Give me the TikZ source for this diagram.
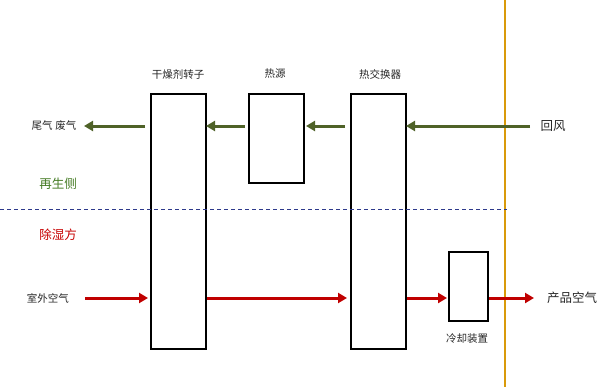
\documentclass[tikz,border=0pt]{standalone}
\usepackage{fontspec}
\setmainfont{Noto Sans CJK SC}
\usetikzlibrary{arrows.meta}
\definecolor{regen}{HTML}{4F6228}
\definecolor{dehum}{HTML}{C00000}
\definecolor{divline}{HTML}{D99A0A}
\definecolor{dashblue}{HTML}{2E3A8C}
\tikzset{
  unitbox/.style={draw=black, line width=1.6pt, minimum width=55pt, inner sep=0pt},
  lbl/.style={font=\fontsize{10.5}{12}\selectfont, text=black!85, inner sep=0pt},
  biglbl/.style={font=\fontsize{12.5}{14}\selectfont, inner sep=0pt},
  greenarrow/.style={draw=regen, line width=3pt, -{Triangle[length=9pt,width=10pt]}},
  redarrow/.style={draw=dehum, line width=3pt, -{Triangle[length=9pt,width=10pt]}},
}
\begin{document}
\begin{tikzpicture}[x=1pt,y=-1pt]
\useasboundingbox (0,0) rectangle (600,389);
% boxes
\node[unitbox, minimum height=255pt, anchor=north west] (rotor) at (150,93) {};
\node[unitbox, minimum height=89pt, anchor=north west] (heater) at (248,93) {};
\node[unitbox, minimum height=255pt, anchor=north west] (hx) at (350,93) {};
\node[unitbox, minimum width=39pt, minimum height=69pt, anchor=north west] (cooler) at (448,251) {};
% divider lines
\coordinate (vtop) at (505,0);
\coordinate (vbot) at (505,387);
\draw[divline, line width=1.5pt] (vtop) -- (vbot);
\coordinate (dl) at (0,209);
\coordinate (dr) at (507,209);
\draw[dashblue, line width=0.8pt, dash pattern=on 4pt off 3pt] (dl) -- (dr);
% labels
\node[lbl] (lrotor) at (178,75) {干燥剂转子};
\node[lbl] (lheater) at (275,74) {热源};
\node[lbl] (lhx) at (380,74) {热交换器};
\node[lbl] (lcooler) at (467,339) {冷却装置};
\node[lbl] (exhaust) at (54,126) {尾气\hspace{3pt}废气};
\node[lbl] (outdoor) at (48,298) {室外空气};
\node[biglbl, text=black!85] (ret) at (553,126) {回风};
\node[biglbl, text=black!85] (prod) at (572,298) {产品空气};
\node[biglbl, text=regen!85!green] (regside) at (58,184) {再生侧};
\node[biglbl, text=dehum!90!red] (dehside) at (58,235) {除湿方};
% regeneration side arrows (right to left)
\coordinate (g1s) at (530,126); \coordinate (g1e) at (406,126);
\coordinate (g2s) at (345,126); \coordinate (g2e) at (306,126);
\coordinate (g3s) at (245,126); \coordinate (g3e) at (206,126);
\coordinate (g4s) at (145,126); \coordinate (g4e) at (84,126);
\draw[greenarrow] (g1s) -- (g1e);
\draw[greenarrow] (g2s) -- (g2e);
\draw[greenarrow] (g3s) -- (g3e);
\draw[greenarrow] (g4s) -- (g4e);
% dehumidification side arrows (left to right)
\coordinate (r1s) at (85,298); \coordinate (r1e) at (148,298);
\coordinate (r2s) at (207,298); \coordinate (r2e) at (347,298);
\coordinate (r3s) at (407,298); \coordinate (r3e) at (447,298);
\coordinate (r4s) at (489,298); \coordinate (r4e) at (534,298);
\draw[redarrow] (r1s) -- (r1e);
\draw[redarrow] (r2s) -- (r2e);
\draw[redarrow] (r3s) -- (r3e);
\draw[redarrow] (r4s) -- (r4e);
\end{tikzpicture}
\end{document}
